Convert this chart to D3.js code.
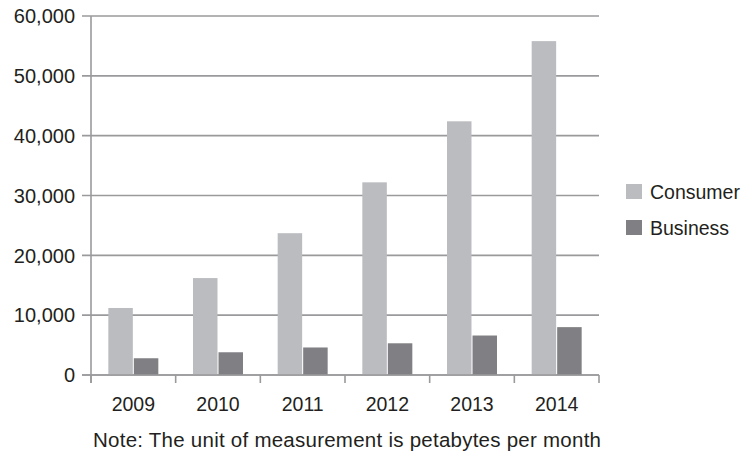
<!DOCTYPE html>
<html>
<head>
<meta charset="utf-8">
<script src="https://cdn.jsdelivr.net/npm/d3@7"></script>
<style>
  html, body { margin: 0; padding: 0; background: #fff; }
  svg { display: block; font-family: "Liberation Sans", Arial, Helvetica, sans-serif; }
</style>
</head>
<body>
<svg id="chart" width="744" height="455"></svg>
<script>
// Monthly traffic, petabytes per month
const years = ["2009", "2010", "2011", "2012", "2013", "2014"];
const seriesNames = ["Consumer", "Business"];
const consumer = [11200, 16200, 23700, 32200, 42400, 55800];
const business = [2800, 3800, 4600, 5300, 6600, 8000];
const yTicks = [0, 10000, 20000, 30000, 40000, 50000, 60000];

const colors = { Consumer: "#bbbcc0", Business: "#808084" };
const gridColor = "#9a9a9c";
const textColor = "#231f20";

const svg = d3.select("#chart");
const plot = { left: 91, right: 599, top: 16, bottom: 375 };

const x0 = d3.scaleBand().domain(years).range([plot.left, plot.right]).padding(0);
const groupW = 50;
const x1 = d3.scaleBand().domain(seriesNames)
  .range([(x0.bandwidth() - groupW) / 2, (x0.bandwidth() + groupW) / 2])
  .paddingInner(0.04);
const y = d3.scaleLinear().domain([0, 60000]).range([plot.bottom, plot.top]);

const fmt = d3.format(",");

// horizontal gridlines, extended left past the axis as tick marks
svg.append("g").selectAll("line").data(yTicks).join("line")
  .attr("x1", plot.left - 9).attr("x2", plot.right)
  .attr("y1", d => y(d)).attr("y2", d => y(d))
  .attr("stroke", gridColor).attr("stroke-width", 1.6);

// y tick labels
svg.append("g").selectAll("text").data(yTicks).join("text")
  .attr("x", 75).attr("y", d => y(d))
  .attr("dy", "0.36em")
  .attr("text-anchor", "end")
  .attr("fill", textColor)
  .attr("font-size", 20)
  .text(d => fmt(d));

// bars
const rows = years.map((yr, i) => ({ year: yr, Consumer: consumer[i], Business: business[i] }));
const groups = svg.append("g").selectAll("g").data(rows).join("g")
  .attr("transform", d => `translate(${x0(d.year)},0)`);
groups.selectAll("rect")
  .data(d => seriesNames.map(k => ({ key: k, value: d[k] })))
  .join("rect")
  .attr("x", d => x1(d.key))
  .attr("width", x1.bandwidth())
  .attr("y", d => y(d.value))
  .attr("height", d => y(0) - y(d.value))
  .attr("fill", d => colors[d.key]);

// axes lines
svg.append("line")
  .attr("x1", plot.left).attr("x2", plot.left)
  .attr("y1", plot.top).attr("y2", plot.bottom + 8)
  .attr("stroke", gridColor).attr("stroke-width", 1.6);
svg.append("line")
  .attr("x1", plot.left - 9).attr("x2", plot.right)
  .attr("y1", plot.bottom).attr("y2", plot.bottom)
  .attr("stroke", gridColor).attr("stroke-width", 1.6);

// x category boundary ticks
const bounds = years.map(yr => x0(yr)).concat([x0(years[years.length - 1]) + x0.bandwidth()]);
svg.append("g").selectAll("line").data(bounds).join("line")
  .attr("x1", d => d).attr("x2", d => d)
  .attr("y1", plot.bottom).attr("y2", plot.bottom + 8)
  .attr("stroke", gridColor).attr("stroke-width", 1.6);

// x labels
svg.append("g").selectAll("text").data(years).join("text")
  .attr("x", d => x0(d) + x0.bandwidth() / 2)
  .attr("y", 410.5)
  .attr("text-anchor", "middle")
  .attr("fill", textColor)
  .attr("font-size", 19.5)
  .text(d => d);

// legend
const legend = svg.append("g").selectAll("g").data(seriesNames).join("g")
  .attr("transform", (d, i) => `translate(626,${184 + i * 36})`);
legend.append("rect")
  .attr("width", 16).attr("height", 15)
  .attr("fill", d => colors[d]);
legend.append("text")
  .attr("x", 24).attr("y", 14.5)
  .attr("fill", textColor)
  .attr("font-size", 19.5)
  .text(d => d);

// footnote
svg.append("text")
  .attr("x", 93).attr("y", 446.5)
  .attr("fill", textColor)
  .attr("font-size", 20.5)
  .attr("textLength", 508)
  .attr("lengthAdjust", "spacing")
  .text("Note: The unit of measurement is petabytes per month");
</script>
</body>
</html>
